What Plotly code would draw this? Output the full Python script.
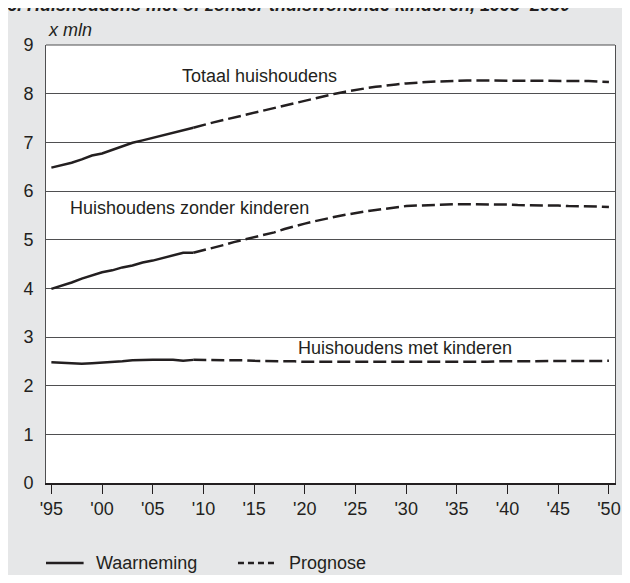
import plotly.graph_objects as go

# Waarneming (observed) 1995-2009
obs_years = list(range(1995, 2010))
obs_totaal = [6.48, 6.53, 6.58, 6.65, 6.73, 6.77, 6.84, 6.91, 6.99, 7.04, 7.09, 7.14, 7.19, 7.25, 7.30]
obs_zonder = [3.99, 4.05, 4.12, 4.20, 4.27, 4.33, 4.37, 4.43, 4.47, 4.53, 4.57, 4.62, 4.67, 4.73, 4.73]
obs_met = [2.48, 2.47, 2.46, 2.45, 2.46, 2.47, 2.49, 2.50, 2.52, 2.53, 2.53, 2.53, 2.53, 2.51, 2.53]

# Prognose 2009-2050
prog_years = list(range(2009, 2051))
prog_totaal = [7.30, 7.36, 7.41, 7.46, 7.51, 7.56, 7.61, 7.66, 7.71, 7.76, 7.81,
               7.86, 7.91, 7.95, 8.00, 8.04, 8.08, 8.11, 8.14, 8.17, 8.19,
               8.21, 8.23, 8.24, 8.25, 8.26, 8.26, 8.27, 8.27, 8.27, 8.27,
               8.27, 8.27, 8.27, 8.27, 8.27, 8.26, 8.26, 8.26, 8.26, 8.25, 8.24]
prog_zonder = [4.73, 4.78, 4.83, 4.89, 4.95, 5.00, 5.05, 5.10, 5.15, 5.22, 5.28,
               5.33, 5.38, 5.43, 5.47, 5.51, 5.55, 5.58, 5.61, 5.64, 5.67,
               5.69, 5.70, 5.71, 5.72, 5.73, 5.73, 5.73, 5.73, 5.73, 5.72,
               5.72, 5.71, 5.71, 5.70, 5.70, 5.70, 5.69, 5.69, 5.68, 5.68, 5.67]
prog_met = [2.53, 2.53, 2.53, 2.52, 2.52, 2.52, 2.51, 2.51, 2.51, 2.50, 2.50,
            2.49, 2.49, 2.49, 2.48, 2.48, 2.48, 2.48, 2.48, 2.48, 2.48,
            2.48, 2.48, 2.48, 2.48, 2.48, 2.49, 2.49, 2.49, 2.49, 2.50,
            2.50, 2.50, 2.50, 2.50, 2.51, 2.51, 2.51, 2.51, 2.51, 2.51, 2.51]

tick_years = list(range(1995, 2051, 5))
tick_labels = ["'95", "'00", "'05", "'10", "'15", "'20", "'25", "'30", "'35", "'40", "'45", "'50"]

series_labels = ["Totaal huishoudens", "Huishoudens zonder kinderen", "Huishoudens met kinderen"]

INK = "#231f20"
GRID = "#4f4f51"
BG = "#e6e7e8"
FONT = "Liberation Sans, Arial, sans-serif"

# the page puts the figure 8px in from the top-left corner
W, H = 622, 567
L, R, T, B = 38, 613, 37, 475  # plot area in figure pixels


def px_x(x):
    return (x - L) / (R - L)


def px_y(y):
    return (B - y) / (B - T)


fig = go.Figure()

for ys in (obs_totaal, obs_zonder, obs_met):
    fig.add_trace(go.Scatter(x=obs_years, y=ys, mode="lines",
                             line=dict(color=INK, width=2.5), showlegend=False))
for ys in (prog_totaal, prog_zonder, prog_met):
    fig.add_trace(go.Scatter(x=prog_years, y=ys, mode="lines",
                             line=dict(color=INK, width=2.5, dash="13px,5px"),
                             showlegend=False))

# series labels
label_pos = [(2007.7, 8.36), (1996.65, 5.65), (2019.1, 2.78)]
for text, (lx, ly) in zip(series_labels, label_pos):
    fig.add_annotation(x=lx, y=ly, text=text, showarrow=False, xanchor="left",
                       yanchor="middle", font=dict(size=18, color=INK))

# unit label
fig.add_annotation(x=px_x(38), y=px_y(22), xref="paper", yref="paper", text="<i>x mln</i>",
                   showarrow=False, xanchor="left", yanchor="middle",
                   font=dict(size=18, color=INK))

# title, only its lower part shows at the top edge (as in the source)
fig.add_annotation(x=px_x(-3), y=px_y(9), xref="paper", yref="paper",
                   text="<b><i>6. Huishoudens met of zonder thuiswonende kinderen, 1995–2050</i></b>",
                   showarrow=False, xanchor="left", yanchor="bottom",
                   font=dict(size=18, color=INK))

# legend
fig.add_shape(type="line", xref="paper", yref="paper", x0=px_x(38), x1=px_x(76),
              y0=px_y(555), y1=px_y(555), line=dict(color=INK, width=2.5))
fig.add_shape(type="line", xref="paper", yref="paper", x0=px_x(232), x1=px_x(271),
              y0=px_y(555), y1=px_y(555), line=dict(color=INK, width=2.5, dash="6px,4px"))
fig.add_annotation(x=px_x(87), y=px_y(555), xref="paper", yref="paper", text="Waarneming",
                   showarrow=False, xanchor="left", yanchor="middle", font=dict(size=18, color=INK))
fig.add_annotation(x=px_x(282), y=px_y(555), xref="paper", yref="paper", text="Prognose",
                   showarrow=False, xanchor="left", yanchor="middle", font=dict(size=18, color=INK))

# top border of the plot
fig.add_shape(type="line", xref="paper", yref="paper", x0=0, x1=1, y0=1, y1=1,
              line=dict(color=GRID, width=1))

fig.update_layout(
    width=W, height=H,
    margin=dict(l=L, r=W - R, t=T, b=H - B),
    paper_bgcolor=BG, plot_bgcolor="white",
    font=dict(family=FONT, size=18, color=INK),
    showlegend=False,
)
fig.update_xaxes(range=[1994.47, 2050.6], tickvals=tick_years, ticktext=tick_labels,
                 showgrid=False, zeroline=False, showline=True, linecolor=INK, linewidth=1.5,
                 ticks="outside", ticklen=9, tickwidth=1, tickcolor=INK,
                 tickfont=dict(size=18, color=INK))
fig.update_yaxes(range=[0, 9], tickvals=list(range(0, 10)), showgrid=True,
                 gridcolor=GRID, gridwidth=1, zeroline=False,
                 showline=True, mirror=True, linecolor=GRID, linewidth=1,
                 ticks="outside", ticklen=8, tickcolor="rgba(0,0,0,0)",
                 tickfont=dict(size=18, color=INK))

fig.write_html("out.html")
